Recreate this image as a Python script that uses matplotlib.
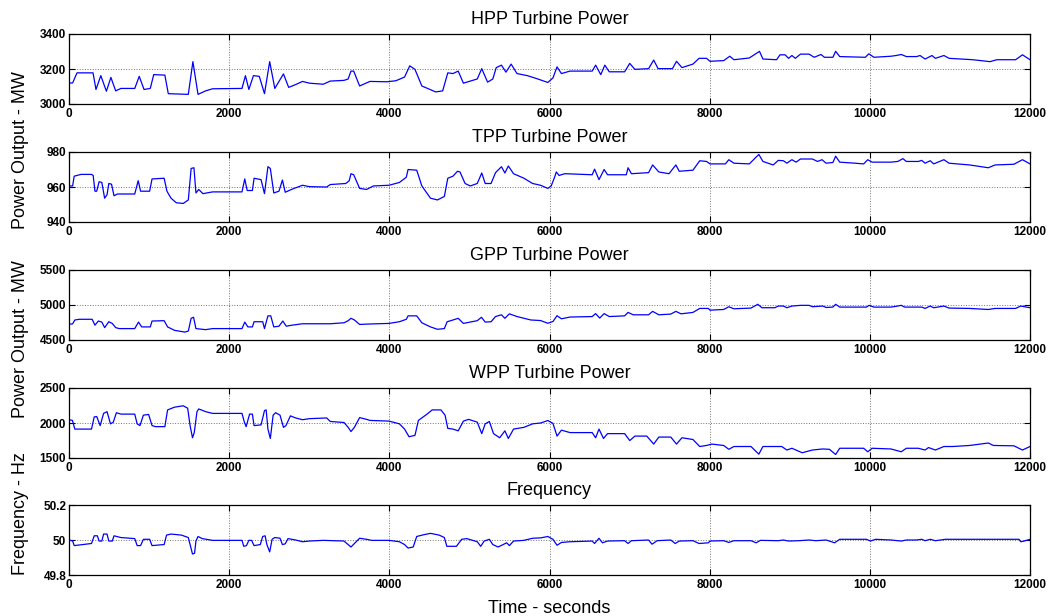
import matplotlib
matplotlib.use("Agg")
import matplotlib.pyplot as plt

plt.rcParams['font.family'] = ['Liberation Sans', 'DejaVu Sans']

# HPP turbine power (MW)
hpp_t = [0, 45, 100, 300, 337, 397, 467, 523, 583, 648,
         821, 877, 937, 1015, 1058, 1197, 1240, 1490, 1547, 1611,
         1706, 1793, 2160, 2203, 2246, 2303, 2376, 2441, 2506, 2570,
         2678, 2743, 2830, 2916, 3002, 3175, 3262, 3434, 3486, 3521,
         3555, 3629, 3758, 3974, 4082, 4190, 4255, 4320, 4406, 4579,
         4666, 4730, 4795, 4860, 4925, 5098, 5154, 5227, 5292, 5335,
         5400, 5456, 5521, 5594, 5724, 5854, 5979, 6043, 6094, 6149,
         6256, 6533, 6576, 6640, 6691, 6746, 6938, 7002, 7066, 7237,
         7301, 7356, 7535, 7586, 7654, 7791, 7868, 7961, 8004, 8175,
         8251, 8303, 8495, 8622, 8665, 8836, 8878, 8942, 8985, 9027,
         9070, 9134, 9241, 9305, 9390, 9433, 9539, 9573, 9624, 9944,
         9987, 10051, 10264, 10328, 10392, 10456, 10584, 10627, 10690, 10776,
         10818, 10925, 10989, 11287, 11500, 11586, 11820, 11906, 12000]
hpp_mw = [3120, 3120, 3178, 3178, 3083, 3162, 3073, 3152, 3075, 3089,
          3089, 3158, 3083, 3089, 3168, 3165, 3059, 3055, 3242, 3055,
          3075, 3087, 3089, 3162, 3083, 3162, 3158, 3059, 3242, 3089,
          3172, 3095, 3111, 3129, 3119, 3113, 3131, 3135, 3143, 3188,
          3188, 3103, 3129, 3127, 3133, 3154, 3218, 3198, 3103, 3069,
          3075, 3178, 3174, 3188, 3119, 3143, 3202, 3125, 3143, 3208,
          3222, 3182, 3228, 3174, 3162, 3143, 3123, 3149, 3212, 3174,
          3188, 3188, 3222, 3168, 3222, 3184, 3184, 3232, 3198, 3202,
          3251, 3202, 3202, 3244, 3208, 3228, 3261, 3261, 3244, 3248,
          3273, 3253, 3263, 3301, 3257, 3253, 3281, 3281, 3261, 3277,
          3261, 3285, 3285, 3267, 3283, 3267, 3267, 3301, 3271, 3267,
          3287, 3267, 3273, 3277, 3283, 3271, 3271, 3277, 3257, 3277,
          3261, 3277, 3261, 3253, 3242, 3253, 3253, 3281, 3253]

# TPP turbine power (MW)
tpp_t = [0, 45, 65, 151, 281, 302, 324, 346, 376, 410,
         445, 475, 497, 531, 562, 605, 821, 864, 894, 1007,
         1037, 1188, 1223, 1274, 1339, 1426, 1490, 1525, 1560, 1585,
         1620, 1672, 1793, 2160, 2195, 2225, 2290, 2311, 2398, 2441,
         2484, 2514, 2557, 2622, 2665, 2700, 2778, 2916, 3002, 3218,
         3262, 3456, 3499, 3521, 3555, 3629, 3715, 3802, 3996, 4126,
         4212, 4234, 4342, 4406, 4514, 4601, 4687, 4730, 4795, 4851,
         4882, 4946, 5011, 5098, 5154, 5197, 5270, 5326, 5400, 5443,
         5486, 5551, 5681, 5789, 5888, 5979, 6021, 6064, 6085, 6119,
         6192, 6533, 6563, 6618, 6682, 6725, 6959, 6981, 7023, 7237,
         7288, 7365, 7492, 7578, 7620, 7791, 7876, 7961, 8004, 8196,
         8239, 8303, 8495, 8614, 8665, 8793, 8857, 8921, 8964, 9027,
         9079, 9134, 9283, 9347, 9403, 9454, 9539, 9573, 9624, 9816,
         9923, 9974, 10029, 10264, 10349, 10413, 10456, 10605, 10648, 10690,
         10754, 10797, 10925, 10989, 11245, 11479, 11564, 11799, 11906, 12000]
tpp_mw = [960.6, 960.6, 966.2, 967.2, 967.2, 966.6, 957.6, 957.6, 963, 962.6,
          953.6, 955.6, 962, 961.6, 955, 956, 956, 963.6, 957.6, 957.6,
          964.6, 965, 957.6, 953.6, 951, 950.6, 952.6, 970.6, 971, 956.6,
          958.6, 956.2, 957.2, 957.2, 964.6, 958, 958, 965, 964.2, 956.2,
          971.6, 970.6, 956.6, 957.6, 964, 957, 958.6, 961, 960.2, 960,
          961.4, 962, 963.6, 967.6, 967, 959.2, 958.6, 960.6, 961, 962.6,
          965.6, 970, 969.6, 960.6, 953.6, 952.6, 954.6, 965, 966.2, 969,
          968.6, 962, 960.6, 962, 968, 962, 962, 968.2, 971.6, 968,
          972, 967.6, 965, 962, 961, 959.2, 960.6, 965.6, 968.6, 966.6,
          967.6, 967, 970.2, 964.2, 970, 967, 967, 971, 967.6, 968.2,
          972.6, 968.6, 967.6, 972.6, 969, 969.6, 975, 974.6, 973.2, 973.2,
          975.6, 973.6, 973.2, 978.6, 974.6, 972.6, 975.2, 975, 973.6, 975.6,
          974.2, 976, 976, 974.6, 975.6, 973.6, 974, 977.6, 974.2, 973.6,
          973.2, 975.6, 974.2, 974.2, 974.6, 976.2, 974.6, 974.6, 975.2, 973.6,
          975, 973.2, 975.6, 973.6, 972.6, 971, 972.6, 973, 975.6, 973.2]

# GPP turbine power (MW)
gpp_t = [0, 45, 73, 130, 289, 324, 367, 410, 445, 497,
         540, 583, 626, 821, 868, 907, 1015, 1037, 1188, 1231,
         1318, 1447, 1490, 1525, 1555, 1585, 1706, 1793, 2160, 2195,
         2233, 2290, 2311, 2419, 2441, 2484, 2519, 2557, 2622, 2670,
         2713, 2786, 2916, 3262, 3434, 3486, 3521, 3564, 3629, 3715,
         3996, 4126, 4212, 4234, 4342, 4406, 4514, 4601, 4687, 4722,
         4795, 4860, 4925, 5098, 5150, 5197, 5270, 5326, 5400, 5443,
         5499, 5594, 5767, 5888, 5979, 6043, 6094, 6149, 6256, 6533,
         6576, 6627, 6682, 6746, 6938, 6981, 7045, 7237, 7288, 7365,
         7514, 7578, 7642, 7791, 7876, 7983, 8004, 8175, 8239, 8303,
         8516, 8601, 8652, 8814, 8857, 8921, 8964, 9027, 9134, 9241,
         9283, 9411, 9454, 9539, 9573, 9624, 9957, 9991, 10051, 10264,
         10349, 10392, 10435, 10648, 10690, 10754, 10797, 10925, 10989, 11245,
         11479, 11564, 11820, 11884, 12000]
gpp_mw = [4727, 4730, 4786, 4796, 4796, 4712, 4771, 4756, 4677, 4761,
          4737, 4677, 4663, 4663, 4756, 4687, 4687, 4771, 4776, 4687,
          4638, 4613, 4628, 4810, 4825, 4663, 4648, 4663, 4663, 4756,
          4687, 4687, 4761, 4761, 4663, 4845, 4845, 4687, 4697, 4771,
          4697, 4712, 4732, 4732, 4746, 4776, 4810, 4786, 4722, 4727,
          4737, 4761, 4796, 4845, 4845, 4746, 4687, 4653, 4663, 4761,
          4786, 4810, 4737, 4776, 4825, 4756, 4761, 4835, 4860, 4810,
          4874, 4835, 4786, 4778, 4739, 4764, 4847, 4803, 4828, 4835,
          4877, 4813, 4877, 4835, 4845, 4894, 4860, 4860, 4909, 4860,
          4870, 4909, 4874, 4894, 4951, 4951, 4926, 4936, 4975, 4946,
          4956, 5010, 4961, 4961, 4985, 4985, 4961, 4985, 4995, 4995,
          4975, 4985, 4965, 4970, 5010, 4970, 4970, 4995, 4970, 4970,
          4985, 4995, 4970, 4970, 4951, 4985, 4961, 4985, 4956, 4951,
          4936, 4951, 4951, 4985, 4961]

# WPP turbine power (MW)
wpp_t = [0, 43, 73, 281, 315, 346, 389, 432, 475, 518,
         553, 592, 648, 821, 851, 886, 929, 994, 1037, 1080,
         1197, 1231, 1318, 1426, 1482, 1512, 1542, 1564, 1598, 1620,
         1706, 1793, 2160, 2190, 2212, 2255, 2290, 2311, 2398, 2441,
         2462, 2484, 2514, 2549, 2579, 2635, 2678, 2709, 2765, 2830,
         2916, 3002, 3218, 3262, 3434, 3486, 3521, 3564, 3629, 3715,
         3758, 3996, 4126, 4190, 4246, 4320, 4363, 4471, 4536, 4644,
         4696, 4730, 4795, 4860, 4925, 4990, 5098, 5154, 5197, 5249,
         5301, 5378, 5443, 5486, 5551, 5681, 5789, 5888, 5979, 6043,
         6094, 6149, 6256, 6533, 6576, 6618, 6674, 6725, 6938, 7002,
         7066, 7215, 7301, 7365, 7514, 7586, 7654, 7791, 7876, 7961,
         8026, 8175, 8239, 8303, 8516, 8614, 8665, 8900, 8964, 9027,
         9155, 9283, 9411, 9496, 9573, 9624, 9923, 9974, 10029, 10264,
         10392, 10456, 10605, 10690, 10733, 10818, 10925, 11032, 11245, 11479,
         11543, 11799, 11906, 12000]
wpp_mw = [2047, 2037, 1913, 1913, 2087, 2092, 1963, 2137, 2162, 1988,
          2012, 2147, 2127, 2127, 1988, 1963, 2112, 2122, 1963, 1948,
          1948, 2187, 2226, 2246, 2211, 1963, 1789, 1863, 2162, 2201,
          2162, 2137, 2137, 2012, 1948, 2127, 2127, 1963, 1973, 2177,
          2187, 1913, 1779, 2112, 2147, 2112, 1938, 1963, 2102, 2072,
          2047, 2062, 2072, 2022, 2007, 1938, 1878, 1938, 2077, 2052,
          2037, 2027, 1988, 1913, 1804, 1823, 2037, 2127, 2187, 2187,
          2112, 1923, 1913, 1888, 2027, 2052, 2012, 1848, 1988, 2022,
          1848, 1789, 1888, 1779, 1913, 1938, 1988, 2000, 2035, 1995,
          1813, 1898, 1863, 1863, 1789, 1913, 1779, 1848, 1848, 1749,
          1813, 1813, 1699, 1799, 1799, 1699, 1789, 1764, 1664, 1679,
          1699, 1679, 1624, 1664, 1664, 1555, 1664, 1664, 1614, 1639,
          1575, 1614, 1629, 1624, 1550, 1639, 1639, 1589, 1639, 1629,
          1589, 1639, 1639, 1614, 1649, 1614, 1664, 1664, 1679, 1714,
          1679, 1674, 1614, 1664]

# system frequency (Hz)
freq_t = [0, 45, 65, 281, 315, 354, 376, 410, 432, 475,
          497, 540, 562, 648, 821, 851, 894, 929, 1007, 1037,
          1188, 1218, 1274, 1404, 1490, 1512, 1542, 1568, 1585, 1611,
          1663, 1793, 2160, 2182, 2216, 2246, 2280, 2311, 2389, 2419,
          2449, 2471, 2506, 2536, 2570, 2635, 2665, 2700, 2735, 2830,
          2916, 3002, 3175, 3434, 3486, 3521, 3564, 3629, 3715, 3780,
          3996, 4126, 4190, 4234, 4298, 4342, 4428, 4514, 4622, 4687,
          4718, 4838, 4903, 4968, 5098, 5141, 5184, 5249, 5292, 5357,
          5422, 5465, 5499, 5551, 5681, 5789, 5888, 5979, 6043, 6094,
          6149, 6256, 6533, 6563, 6618, 6661, 6725, 6938, 6981, 7023,
          7237, 7280, 7344, 7514, 7569, 7620, 7791, 7868, 7983, 8004,
          8175, 8239, 8303, 8516, 8580, 8635, 8857, 8921, 8985, 9113,
          9241, 9326, 9454, 9560, 9624, 9957, 10008, 10072, 10264, 10392,
          10456, 10584, 10648, 10690, 10754, 10818, 10946, 11500, 11863, 11884,
          11927, 12000]
freq_hz = [50.0, 49.995, 49.968, 49.98, 50.024, 50.024, 49.994, 49.994, 50.034, 50.034,
           49.994, 49.994, 50.024, 50.014, 50.008, 49.968, 49.968, 50.004, 50.004, 49.968,
           49.974, 50.028, 50.034, 50.028, 50.014, 49.974, 49.92, 49.924, 49.994, 50.02,
           50.008, 49.998, 49.998, 49.964, 49.968, 49.998, 49.998, 49.968, 49.974, 50.02,
           50.024, 49.974, 49.932, 50.004, 50.014, 50.01, 49.974, 49.978, 50.008, 50.0,
           49.99, 49.994, 49.998, 49.994, 49.974, 49.96, 49.98, 50.01, 50.004, 49.998,
           49.998, 49.99, 49.974, 49.954, 49.96, 50.02, 50.03, 50.038, 50.028, 50.014,
           49.964, 49.964, 50.004, 50.008, 49.99, 49.964, 49.994, 50.004, 49.974, 49.96,
           49.974, 49.984, 49.968, 49.994, 49.998, 50.01, 50.012, 50.02, 50.004, 49.97,
           49.986, 49.99, 49.994, 49.98, 50.01, 49.984, 49.994, 49.996, 49.98, 49.996,
           50.0, 49.976, 49.996, 50.0, 49.98, 49.994, 49.996, 49.98, 49.984, 49.994,
           49.996, 49.986, 49.996, 49.996, 49.984, 49.998, 49.996, 50.0, 49.994, 49.996,
           50.0, 49.996, 50.0, 49.984, 50.004, 50.004, 49.994, 50.004, 50.0, 49.994,
           50.0, 50.0, 50.004, 49.996, 50.004, 49.996, 50.004, 50.004, 50.004, 49.99,
           49.994, 50.004]

titles = ['HPP Turbine Power', 'TPP Turbine Power', 'GPP Turbine Power',
          'WPP Turbine Power', 'Frequency']
series = [(hpp_t, hpp_mw), (tpp_t, tpp_mw), (gpp_t, gpp_mw),
          (wpp_t, wpp_mw), (freq_t, freq_hz)]
y_limits = [(3000, 3400), (940, 980), (4500, 5500), (1500, 2500), (49.8, 50.2)]
y_ticks = [[3000, 3200, 3400], [940, 960, 980], [4500, 5000, 5500],
           [1500, 2000, 2500], [49.8, 50, 50.2]]
y_ticklabels = [['3000', '3200', '3400'], ['940', '960', '980'],
                ['4500', '5000', '5500'], ['1500', '2000', '2500'],
                ['49.8', '50', '50.2']]
x_ticks = [0, 2000, 4000, 6000, 8000, 10000, 12000]

W, H = 1056, 616
fig = plt.figure(figsize=(W / 100, H / 100), dpi=100)
fig.patch.set_facecolor('white')

tops = [34, 152, 270, 388, 505]   # axes top edges in pixels
ax_h = 70
left, right = 69, 1030

for k in range(5):
    ax = fig.add_axes([left / W, 1 - (tops[k] + ax_h) / H, (right - left) / W, ax_h / H])
    t, v = series[k]
    ax.plot(t, v, color='b', linewidth=0.9)
    ax.set_xlim(0, 12000)
    ax.set_ylim(*y_limits[k])
    ax.set_xticks(x_ticks)
    ax.set_yticks(y_ticks[k])
    ax.set_xticklabels([str(x) for x in x_ticks], fontweight='bold', fontsize=8.5)
    ax.set_yticklabels(y_ticklabels[k], fontweight='bold', fontsize=8.5)
    ax.grid(True, linestyle=':', color='0.45', linewidth=0.7)
    ax.tick_params(direction='in', top=True, right=True, length=4, width=0.8,
                   pad=3, colors='black')
    ax.tick_params(axis='y', pad=2)
    for s in ax.spines.values():
        s.set_linewidth(0.9)
    ax.set_title(titles[k], fontsize=13, pad=7)

fig.text(21 / W, 1 - 150 / H, 'Power Output - MW', rotation=90, fontsize=13,
         ha='center', va='center')
fig.text(21 / W, 1 - 339 / H, 'Power Output - MW', rotation=90, fontsize=13,
         ha='center', va='center')
fig.text(21 / W, 1 - 514 / H, 'Frequency - Hz', rotation=90, fontsize=13,
         ha='center', va='center')
fig.text(549 / W, 3 / H, 'Time - seconds', fontsize=13, ha='center', va='baseline')

fig.savefig('out.png', dpi=100)
